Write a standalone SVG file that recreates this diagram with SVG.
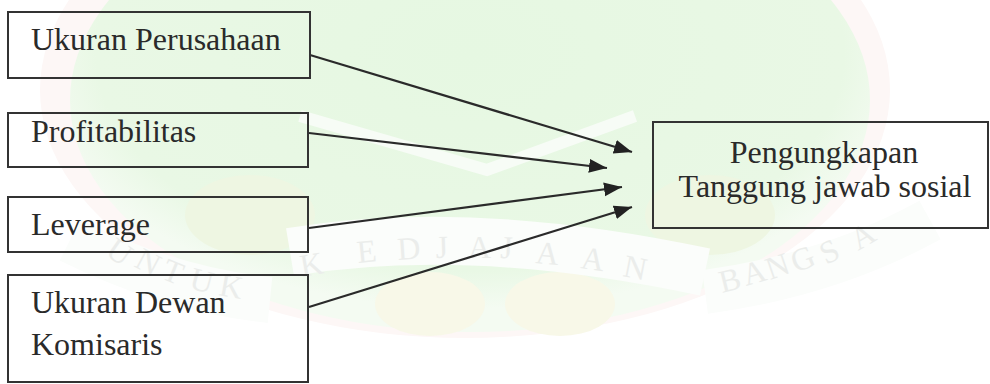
<svg xmlns="http://www.w3.org/2000/svg" width="990" height="384" viewBox="0 0 990 384">
  <defs>
    <style>
      .box { fill: none; stroke: #333; stroke-width: 2; }
      .lbl { font-family: "Liberation Serif", "Times New Roman", serif; font-size: 32px; fill: #2a2a2a; }
      .edge { stroke: #2a2a2a; stroke-width: 2.2; fill: none; marker-end: url(#head); }
      .wm-text { font-family: "Liberation Serif", serif; font-size: 32px; fill: #ebedeb; }
      .ribbon { stroke: #fbfdfb; fill: none; }
    </style>
    <marker id="head" markerUnits="userSpaceOnUse" markerWidth="20" markerHeight="16" refX="18" refY="7" orient="auto">
      <path d="M0,0 L18,7 L0,14 Z" fill="#222"/>
    </marker>
    <radialGradient id="tint" cx="0.5" cy="0.4" r="0.55">
      <stop offset="0" stop-color="#e6f8e2"/>
      <stop offset="0.85" stop-color="#e9f8e5"/>
      <stop offset="1" stop-color="#f4fbf2"/>
    </radialGradient>
  </defs>

  <rect width="990" height="384" fill="#ffffff"/>

  <!-- faint emblem in the background -->
  <g id="emblem">
    <ellipse cx="465" cy="90" rx="425" ry="248" fill="#fdf7f6"/>
    <ellipse cx="470" cy="100" rx="400" ry="232" fill="url(#tint)"/>
    <ellipse cx="430" cy="304" rx="55" ry="32" fill="#f8f8e8"/>
    <ellipse cx="560" cy="304" rx="55" ry="32" fill="#f8f8e8"/>
    <ellipse cx="250" cy="215" rx="65" ry="40" fill="#eef6e2"/>
    <ellipse cx="710" cy="215" rx="65" ry="40" fill="#eef6e2"/>
    <path d="M300,116 L487,170 L635,116" stroke="#f7fcf6" stroke-width="12" fill="none"/>
    <!-- motto ribbon -->
    <path class="ribbon" d="M70,240 Q170,290 270,300" stroke-width="46"/>
    <path class="ribbon" d="M290,252 Q470,222 705,272" stroke-width="48"/>
    <path class="ribbon" d="M705,292 Q830,275 930,220" stroke-width="44"/>
    <text class="wm-text" x="104 133 160 188 218" y="254 266 278 288 295" rotate="35 28 22 15 10">UNTUK</text>
    <text class="wm-text" x="302 358 398 436 468 500 535 580 622" y="277 263 260 258 258 258 263 268 276" rotate="-10 -6 -4 -2 0 2 5 8 11">KEDJAJAAN</text>
    <text class="wm-text" x="722 746 770 796 826 858" y="293 286 280 273 265 251" rotate="-14 -16 -19 -22 -26 -30">BANGSA</text>
  </g>

  <g id="connectors">
    <line class="edge" x1="310" y1="55" x2="632" y2="152"/>
    <line class="edge" x1="309" y1="133" x2="607" y2="168"/>
    <line class="edge" x1="309" y1="228" x2="622" y2="187"/>
    <line class="edge" x1="309" y1="307" x2="632" y2="207"/>
  </g>

  <g id="ukuran-perusahaan">
    <rect class="box" x="8" y="12" width="302" height="66"/>
    <text class="lbl" x="31" y="50">Ukuran Perusahaan</text>
  </g>

  <g id="profitabilitas">
    <rect class="box" x="8" y="113" width="300" height="54"/>
    <text class="lbl" x="31" y="142">Profitabilitas</text>
  </g>

  <g id="leverage">
    <rect class="box" x="8" y="197" width="300" height="55"/>
    <text class="lbl" x="31" y="235">Leverage</text>
  </g>

  <g id="ukuran-dewan-komisaris">
    <rect class="box" x="8" y="275" width="300" height="107"/>
    <text class="lbl" x="31" y="313">Ukuran Dewan</text>
    <text class="lbl" x="31" y="355">Komisaris</text>
  </g>

  <g id="pengungkapan-csr">
    <rect class="box" x="653" y="122" width="335" height="106"/>
    <text class="lbl" x="824" y="163" text-anchor="middle">Pengungkapan</text>
    <text class="lbl" x="825" y="197" text-anchor="middle">Tanggung jawab sosial</text>
  </g>
</svg>
